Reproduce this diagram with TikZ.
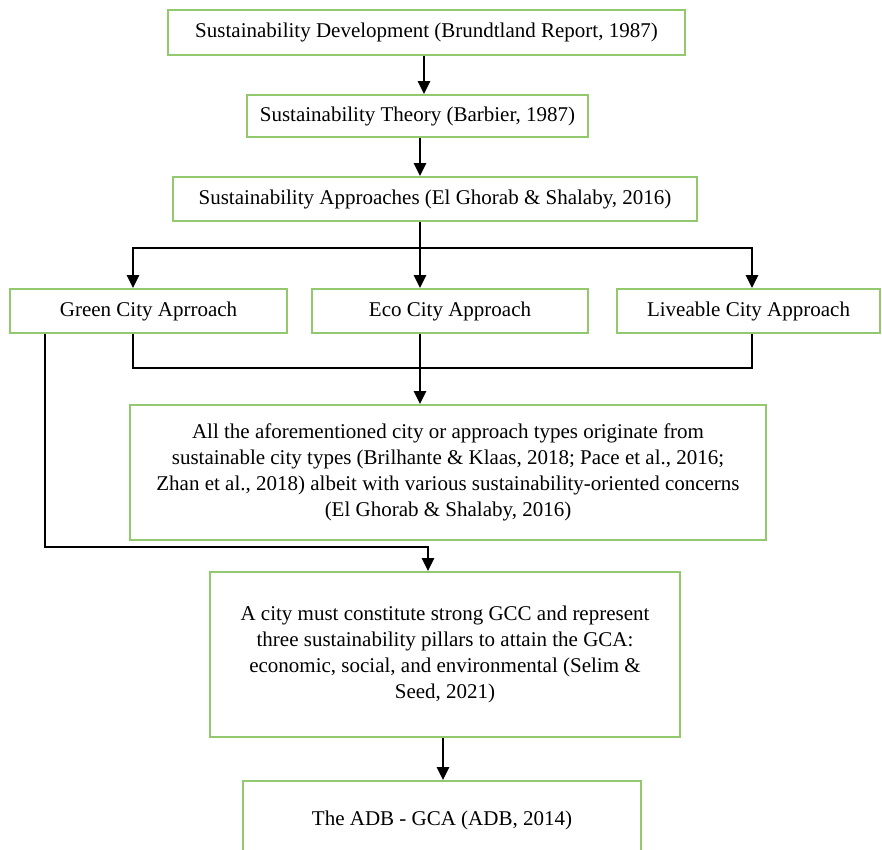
\documentclass[tikz,border=0pt]{standalone}
\usepackage{fontspec}
\setmainfont{Liberation Serif}
\usepackage{tikz}
\usetikzlibrary{arrows.meta,calc}
\definecolor{boxgreen}{RGB}{146,200,110}

\begin{document}
\begin{tikzpicture}[x=1pt,y=-1pt,
		box/.style={draw=boxgreen, line width=2pt, inner sep=6pt, align=center, font=\fontsize{21}{25.8}\selectfont},
		line/.style={line width=2.8pt, black},
		arr/.style={line, -{Triangle[width=12pt,length=13pt]}}]
		\clip (0,0) rectangle (882,849);
		\node[box, minimum width=517pt, minimum height=45pt] (dev) at (426.5, 32.5) {Sustainability Development (Brundtland Report, 1987)};
		\node[box, minimum width=341pt, minimum height=42pt] (theory) at (417.5, 116) {Sustainability Theory (Barbier, 1987)};
		\node[box, minimum width=524pt, minimum height=44pt] (appr) at (435, 199) {Sustainability Approaches (El Ghorab \& Shalaby, 2016)};
		\node[box, minimum width=277pt, minimum height=44pt] (green) at (148.5, 311) {Green City Aprroach};
		\node[box, minimum width=276pt, minimum height=44pt] (eco) at (450, 311) {Eco City Approach};
		\node[box, minimum width=263pt, minimum height=44pt] (live) at (748.5, 311) {Liveable City Approach};
		\node[box, minimum width=636pt, minimum height=135pt] (types) at (448, 472.5) {All the aforementioned city or approach types originate from\\ sustainable city types (Brilhante \& Klaas, 2018; Pace et al., 2016;\\ Zhan et al., 2018) albeit with various sustainability-oriented concerns\\ (El Ghorab \& Shalaby, 2016)};
		\node[box, minimum width=470pt, minimum height=165pt] (pillars) at (445, 654.5) {A city must constitute strong GCC and represent\\ three sustainability pillars to attain the GCA:\\ economic, social, and environmental (Selim \&\\ Seed, 2021)};
		\node[box, minimum width=398pt, minimum height=78pt] (adb) at (442, 820) {The ADB - GCA (ADB, 2014)};
		\coordinate (split) at (420, 248);
		\coordinate (merge) at (420, 368);
		\coordinate (join) at (428, 547);
		\draw[arr] (dev.south -| 424,0) -- (theory.north -| 424,0);
		\draw[arr] (theory.south -| split) -- (appr.north -| split);
		\draw[arr] (appr.south -| split) -- (eco.north -| split);
		\draw[arr] (split) -| ([xshift=-15.5pt]green.north);
		\draw[arr] (split) -| ([xshift=3.5pt]live.north);
		\draw[line] ([xshift=-15.5pt]green.south) |- (merge) -| ([xshift=3.5pt]live.south);
		\draw[arr] (eco.south -| merge) -- (types.north -| merge);
		\draw[arr] ([xshift=-103.5pt]green.south) |- (join) -- (join |- pillars.north);
		\draw[arr] (pillars.south -| 443,0) -- (adb.north -| 443,0);
	\end{tikzpicture}
\end{document}
